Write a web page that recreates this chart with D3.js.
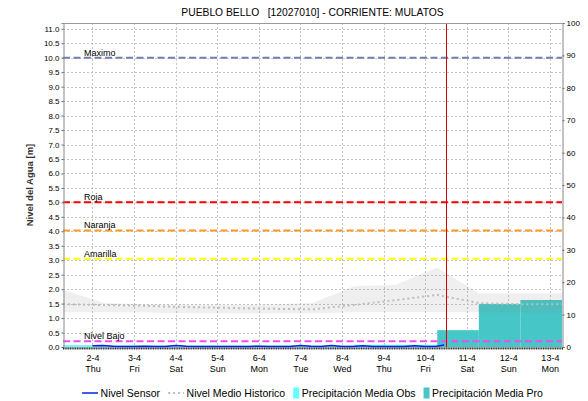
<!DOCTYPE html>
<html>
<head>
<meta charset="utf-8">
<script src="https://cdn.jsdelivr.net/npm/d3@7"></script>
<style>
body{margin:0;background:#fff;}
svg{display:block;font-family:"Liberation Sans",Arial,sans-serif;}
</style>
</head>
<body>
<svg id="chart" width="588" height="401"></svg>
<script>
const TITLE = "PUEBLO BELLO   [12027010] - CORRIENTE: MULATOS";
const Y_LABEL = "Nivel del Agua [m]";

// time window of the chart and the "now" marker
const startTime = new Date(2020, 3, 1, 7);
const endTime = new Date(2020, 3, 13, 7);
const nowTime = new Date(2020, 3, 10, 12);

// alert levels (left axis, metres)
const thresholdNames = ["Maximo", "Roja", "Naranja", "Amarilla", "Nivel Bajo"];
const thresholdValues = [10.0, 5.0, 4.03, 3.05, 0.2];

// historic band + mean, one point per day at 07:00
const histDates = ["2020-04-01", "2020-04-02", "2020-04-03", "2020-04-04", "2020-04-05", "2020-04-06", "2020-04-07",
    "2020-04-08", "2020-04-09", "2020-04-10", "2020-04-11", "2020-04-12", "2020-04-13"];
const histUpper = [1.98, 1.52, 1.47, 1.46, 1.45, 1.47, 1.52, 2.10, 2.15, 2.75, 1.86, 1.86, 1.86];
const histLower = [1.20, 1.20, 1.19, 1.17, 1.16, 1.16, 1.17, 1.20, 1.21, 1.20, 1.20, 1.20, 1.19];
const histMean = [1.48, 1.45, 1.42, 1.38, 1.35, 1.32, 1.30, 1.45, 1.62, 1.80, 1.52, 1.48, 1.48];

// sensor level (m)
const sensorTimes = ["2020-04-02T00:00", "2020-04-02T06:00", "2020-04-02T12:00", "2020-04-02T18:00",
    "2020-04-03T00:00", "2020-04-03T06:00", "2020-04-03T12:00", "2020-04-03T18:00",
    "2020-04-04T00:00", "2020-04-04T06:00", "2020-04-04T12:00", "2020-04-04T18:00",
    "2020-04-05T00:00", "2020-04-05T06:00", "2020-04-05T12:00", "2020-04-05T18:00",
    "2020-04-06T00:00", "2020-04-06T06:00", "2020-04-06T12:00", "2020-04-06T18:00",
    "2020-04-07T00:00", "2020-04-07T06:00", "2020-04-07T12:00", "2020-04-07T18:00",
    "2020-04-08T00:00", "2020-04-08T06:00", "2020-04-08T12:00", "2020-04-08T18:00",
    "2020-04-09T00:00", "2020-04-09T06:00", "2020-04-09T12:00", "2020-04-09T18:00",
    "2020-04-10T00:00", "2020-04-10T06:00", "2020-04-10T11:00"];
const sensorValues = [0.04, 0.05, 0.03, 0.02, 0.02, 0.03, 0.02, 0.02, 0.05, 0.03, 0.02, 0.02,
    0.02, 0.02, 0.02, 0.02, 0.03, 0.02, 0.02, 0.02, 0.05, 0.03, 0.02, 0.05,
    0.02, 0.02, 0.04, 0.02, 0.02, 0.02, 0.02, 0.04, 0.02, 0.02, 0.07];

// precipitation (right axis), one bar per day starting 07:00
const obsDays = ["2020-04-01", "2020-04-02", "2020-04-03", "2020-04-04", "2020-04-05", "2020-04-06", "2020-04-07", "2020-04-08", "2020-04-09"];
const obsValues = [0.6, 0.5, 0.5, 0.5, 0.5, 0.5, 0.5, 0.7, 0.7];
const proDays = ["2020-04-10", "2020-04-11", "2020-04-12"];
const proValues = [5.2, 13.3, 14.5];

const legendNames = ["Nivel Sensor", "Nivel Medio Historico", "Precipitación Media Obs", "Precipitación Media Pro"];

const COLORS = {
    "Maximo": "#6f7fae", "Roja": "#ff0000", "Naranja": "#ff9a22", "Amarilla": "#ffff00", "Nivel Bajo": "#f04cf0",
    sensor: "#0022ee", mean: "#bdbdbd", obs: "#66ffff", pro: "#46c6c6", now: "#d00000", grid: "#c4c4c4"
};

const margin = { top: 23, right: 26, bottom: 54, left: 63 },
    W = 588, H = 401,
    width = W - margin.left - margin.right,
    height = H - margin.top - margin.bottom;

const day07 = s => { const d = d3.timeParse("%Y-%m-%d")(s); d.setHours(7); return d; };
const parseT = d3.timeParse("%Y-%m-%dT%H:%M");

const svg = d3.select("#chart");
const g = svg.append("g").attr("transform", `translate(${margin.left},${margin.top})`);

const x = d3.scaleTime().domain([startTime, endTime]).range([0, width]);
const yL = d3.scaleLinear().domain([0, 11.2]).range([height, 0]);
const yR = d3.scaleLinear().domain([0, 100]).range([height, 0]);

// grid
const dayTicks = x.ticks(d3.timeDay.every(1));
g.append("g").selectAll("line").data(yL.ticks(22).filter(v => v > 0)).join("line")
    .attr("x1", 0).attr("x2", width)
    .attr("y1", d => Math.round(yL(d)) + 0.5).attr("y2", d => Math.round(yL(d)) + 0.5)
    .attr("stroke", COLORS.grid).attr("stroke-dasharray", "2,2");
g.append("g").selectAll("line").data(dayTicks).join("line")
    .attr("x1", d => Math.round(x(d)) + 0.5).attr("x2", d => Math.round(x(d)) + 0.5)
    .attr("y1", 0).attr("y2", height)
    .attr("stroke", COLORS.grid).attr("stroke-dasharray", "2,2");

// precipitation bars
g.append("g").selectAll("rect").data(obsDays).join("rect")
    .attr("x", d => x(day07(d)))
    .attr("width", d => x(d3.timeDay.offset(day07(d), 1)) - x(day07(d)))
    .attr("y", (d, i) => yR(obsValues[i]))
    .attr("height", (d, i) => height - yR(obsValues[i]))
    .attr("fill", COLORS.obs);
g.append("g").selectAll("rect").data(proDays).join("rect")
    .attr("x", d => x(day07(d)))
    .attr("width", d => x(d3.timeDay.offset(day07(d), 1)) - x(day07(d)))
    .attr("y", (d, i) => yR(proValues[i]))
    .attr("height", (d, i) => height - yR(proValues[i]))
    .attr("fill", COLORS.pro);

// historic band
const hist = histDates.map((d, i) => ({ t: day07(d), lo: histLower[i], hi: histUpper[i], m: histMean[i] }));
g.append("path").datum(hist)
    .attr("d", d3.area().x(d => x(d.t)).y0(d => yL(d.lo)).y1(d => yL(d.hi)))
    .attr("fill", "#808080").attr("fill-opacity", 0.13);

// thresholds
thresholdNames.forEach((name, i) => {
    const yy = yL(thresholdValues[i]);
    g.append("line").attr("x1", 0).attr("x2", width).attr("y1", yy).attr("y2", yy)
        .attr("stroke", COLORS[name]).attr("stroke-width", 2).attr("stroke-dasharray", "7,3.5");
    g.append("text").attr("x", 21).attr("y", yy - 2).attr("font-size", 9).attr("fill", "#000").text(name);
});

// historic mean
g.append("path").datum(hist)
    .attr("d", d3.line().x(d => x(d.t)).y(d => yL(d.m)))
    .attr("fill", "none").attr("stroke", COLORS.mean).attr("stroke-width", 2).attr("stroke-dasharray", "2,3");

// sensor
g.append("path").datum(sensorTimes.map((t, i) => ({ t: parseT(t), v: sensorValues[i] })))
    .attr("d", d3.line().x(d => x(d.t)).y(d => yL(d.v)))
    .attr("fill", "none").attr("stroke", COLORS.sensor).attr("stroke-width", 1.5);

// now marker
g.append("line").attr("x1", Math.round(x(nowTime)) + 0.5).attr("x2", Math.round(x(nowTime)) + 0.5)
    .attr("y1", 0).attr("y2", height).attr("stroke", COLORS.now);

// frame
g.append("line").attr("x1", 0).attr("x2", width).attr("y1", 0.5).attr("y2", 0.5).attr("stroke", "#999");

// axes
const yAxisL = g.append("g").attr("transform", "translate(0.5,0)")
    .call(d3.axisLeft(yL).tickValues(yL.ticks(22)).tickFormat(d3.format(".1f")).tickSize(2).tickPadding(2));
const yAxisR = g.append("g").attr("transform", `translate(${width + 0.5},0)`)
    .call(d3.axisRight(yR).ticks(10).tickSize(2).tickPadding(2));
[yAxisL, yAxisR].forEach(a => {
    a.select(".domain").attr("stroke", "#888");
    a.selectAll(".tick line").attr("stroke", "#666");
    a.selectAll("text").attr("font-size", 8).attr("font-family", "Liberation Sans, Arial, sans-serif").attr("fill", "#000");
});

// hourly minor ticks on the bottom edge
const xMinor = g.append("g").attr("transform", `translate(0,${height + 0.5})`)
    .call(d3.axisBottom(x).ticks(d3.timeHour.every(1)).tickSize(2).tickFormat(""));
xMinor.select(".domain").attr("stroke", "#888");
xMinor.selectAll(".tick line").attr("stroke", "#333");

// day labels
const xAxis = g.append("g").attr("transform", `translate(0,${height})`)
    .call(d3.axisBottom(x).tickValues(dayTicks).tickSize(0).tickPadding(0).tickFormat(""));
xAxis.select(".domain").remove();
xAxis.selectAll(".tick").each(function (d) {
    const t = d3.select(this).select("text").attr("font-size", 9).attr("fill", "#000")
        .attr("font-family", "Liberation Sans, Arial, sans-serif").attr("dy", null).attr("y", 0);
    t.append("tspan").attr("x", 0).attr("y", 13.5).text(d3.timeFormat("%-d-%-m")(d));
    t.append("tspan").attr("x", 0).attr("y", 24.5).text(d3.timeFormat("%a")(d));
});

// title and y label
svg.append("text").attr("x", margin.left + width / 2).attr("y", 16).attr("text-anchor", "middle")
    .attr("font-size", 10.3).attr("fill", "#000").style("white-space", "pre").text(TITLE);
svg.append("text").attr("transform", `translate(33,${margin.top + height / 2}) rotate(-90)`)
    .attr("text-anchor", "middle").attr("font-size", 9.5).attr("font-weight", "bold").attr("fill", "#333").text(Y_LABEL);

// legend
const legend = svg.append("g").attr("font-size", 10.5);
const swatch = [
    s => s.append("line").attr("x1", 0).attr("x2", 16).attr("y1", -3.5).attr("y2", -3.5).attr("stroke", COLORS.sensor).attr("stroke-width", 1.5),
    s => s.append("line").attr("x1", 0).attr("x2", 16).attr("y1", -3.5).attr("y2", -3.5).attr("stroke", COLORS.mean).attr("stroke-width", 2).attr("stroke-dasharray", "2,3"),
    s => s.append("rect").attr("x", 0).attr("y", -9).attr("width", 6).attr("height", 11).attr("fill", COLORS.obs),
    s => s.append("rect").attr("x", 0).attr("y", -9).attr("width", 6).attr("height", 11).attr("fill", COLORS.pro)
];
let lx = 0;
legendNames.forEach((name, i) => {
    const item = legend.append("g").attr("transform", `translate(${lx},0)`);
    swatch[i](item);
    const sw = i < 2 ? 16 : 6;
    const txt = item.append("text").attr("x", sw + 2.5).attr("y", 0).attr("fill", "#000").text(name);
    lx += sw + 2.5 + txt.node().getComputedTextLength() + 8;
});
const legendW = lx - 8;
legend.attr("transform", `translate(${margin.left + width / 2 - legendW / 2},396.5)`);
</script>
</body>
</html>
